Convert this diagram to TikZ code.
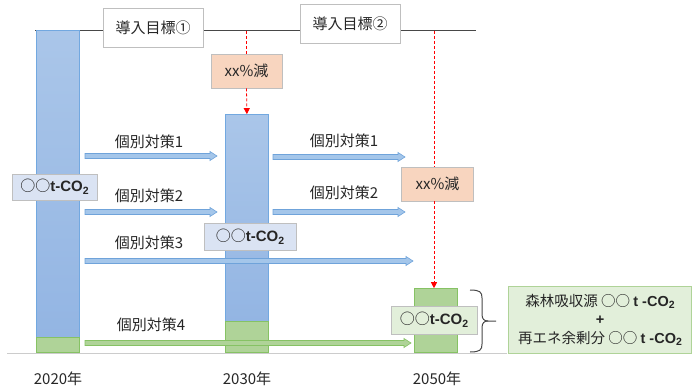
\documentclass[tikz,border=0pt]{standalone}
\usepackage{fontspec}
\setmainfont{Noto Sans CJK JP}
\newfontfamily\lat{Liberation Sans}
\usetikzlibrary{arrows.meta,calc}
\definecolor{bartop}{HTML}{AAC6E9}
\definecolor{barbot}{HTML}{93B5E3}
\definecolor{barline}{HTML}{72A8E0}
\definecolor{grnfill}{HTML}{AFD398}
\definecolor{grnline}{HTML}{86C264}
\definecolor{arrfill}{HTML}{A4C6EA}
\definecolor{arrline}{HTML}{6FA3DA}
\definecolor{labblue}{HTML}{DAE3F3}
\definecolor{labgreen}{HTML}{E2EFDA}
\definecolor{peach}{HTML}{F8D5BF}
\definecolor{boxgray}{HTML}{BFBFBF}
\definecolor{ink}{HTML}{262626}
\newcommand{\cotwo}{{\lat\bfseries t-CO\raisebox{-0.35ex}{\fontsize{10.5}{10.5}\selectfont 2}}}
% block arrow between two named coordinates (same y)
\newcommand{\barrow}[3]{%
  \draw[#1] ($(#2)+(0,-2.5)$) -- ($(#3)+(-7,-2.5)$) -- ($(#3)+(-7,-4.5)$) -- (#3)
    -- ($(#3)+(-7,4.5)$) -- ($(#3)+(-7,2.5)$) -- ($(#2)+(0,2.5)$) -- cycle;}
\begin{document}
\begin{tikzpicture}[x=1pt,y=-1pt,
  every node/.style={font=\fontsize{15}{17}\selectfont, text=ink, inner sep=0pt},
  bluebar/.style={draw=barline, line width=0.8pt, top color=bartop, bottom color=barbot, minimum width=43pt, anchor=south west},
  greenbar/.style={draw=grnline, line width=0.8pt, fill=grnfill, minimum width=43pt, anchor=south west},
  tagbox/.style={draw=boxgray, line width=0.8pt},
  bluearrow/.style={draw=arrline, fill=arrfill, line width=0.6pt, line join=miter},
  greenarrow/.style={draw=grnline, fill=grnfill, line width=0.6pt, line join=miter},
  reddash/.style={draw=red, line width=0.8pt, dash pattern=on 3pt off 2pt, -{Triangle[length=6pt,width=6pt]}}]
\useasboundingbox (0,0) rectangle (692,387);
% axis lines
\coordinate (tl) at (35,31);
\coordinate (tr) at (476,31);
\coordinate (bl) at (7,353);
\coordinate (br) at (507,353);
\draw[draw=ink!85, line width=1pt] (tl) -- (tr);
\draw[draw=black!20, line width=1pt] (bl) -- (br);
% bars
\node[bluebar, minimum height=307pt] (b20) at (36,338) {};
\node[greenbar, minimum height=15pt] (g20) at (36,353) {};
\node[bluebar, minimum height=207pt] (b30) at (225,322) {};
\node[greenbar, minimum height=31pt] (g30) at (225,353) {};
\node[greenbar, minimum height=64pt] (g50) at (414,353) {};
% target boxes
\node[tagbox, fill=white, minimum width=100pt, minimum height=39pt] (t1) at (153,27.5) {導入目標①};
\node[tagbox, fill=white, minimum width=100pt, minimum height=39pt] (t2) at (350,23.5) {導入目標②};
% reduction boxes
\node[tagbox, fill=peach, minimum width=71pt, minimum height=34pt] (r1) at (246.5,71) {xx\%減};
\node[tagbox, fill=peach, minimum width=72pt, minimum height=34pt] (r2) at (437.5,184) {xx\%減};
% red dashed arrows
\coordinate (d1) at (246.5,31);
\coordinate (d2) at (434,31);
\draw[reddash, -] (d1) -- (r1.north);
\draw[reddash] (r1.south) -- (b30.north);
\draw[reddash, -] (d2) -- (d2 |- r2.north);
\draw[reddash] (d2 |- r2.south) -- (d2 |- g50.north);
% block arrows
\coordinate (a1s) at (85,156);  \coordinate (a1e) at (217,156);
\coordinate (a1bs) at (273,157); \coordinate (a1be) at (405,157);
\coordinate (a2s) at (85,212);  \coordinate (a2e) at (217,212);
\coordinate (a2bs) at (273,212); \coordinate (a2be) at (405,212);
\coordinate (a3s) at (85,261);  \coordinate (a3e) at (413,261);
\coordinate (a4s) at (85,343);  \coordinate (a4e) at (411,343);
\barrow{bluearrow}{a1s}{a1e}
\barrow{bluearrow}{a1bs}{a1be}
\barrow{bluearrow}{a2s}{a2e}
\barrow{bluearrow}{a2bs}{a2be}
\barrow{bluearrow}{a3s}{a3e}
\barrow{greenarrow}{a4s}{a4e}
% arrow labels
\node (l1) at (149,142) {個別対策1};
\node (l1b) at (344,141) {個別対策1};
\node (l2) at (149,196) {個別対策2};
\node (l2b) at (344,193) {個別対策2};
\node (l3) at (149,243) {個別対策3};
\node (l4) at (151,325) {個別対策4};
% value labels
\node[tagbox, fill=labblue, minimum width=85pt, minimum height=26pt] (v20) at (54.5,187) {○○\cotwo};
\node[tagbox, fill=labblue, minimum width=92pt, minimum height=27pt] (v30) at (250,236.5) {○○\cotwo};
\node[tagbox, fill=labgreen, minimum width=86pt, minimum height=28pt] (v50) at (434,320) {○○\cotwo};
% brace
\coordinate (bt) at (470,290);
\coordinate (bb) at (470,352);
\coordinate (bm) at (496,321);
\draw[draw=ink!85, line width=1pt] (bt) .. controls (480,290) and (482,292) .. (482,298) -- (482,314) .. controls (482,319) and (484,321) .. (488,321) -- (bm);
\draw[draw=ink!85, line width=1pt] (488,321) .. controls (484,321) and (482,323) .. (482,328) -- (482,344) .. controls (482,350) and (480,352) .. (bb);
% right box
\node[draw=grnfill, line width=1pt, fill=labgreen, minimum width=183pt, minimum height=67pt, align=center, font=\fontsize{14.5}{18.5}\selectfont] (sink) at (600,320) {森林吸収源 ○○ {\lat\bfseries t -CO\raisebox{-0.35ex}{\fontsize{10.5}{10.5}\selectfont 2}}\\{\lat\bfseries +}\\再エネ余剰分 ○○ {\lat\bfseries t -CO\raisebox{-0.35ex}{\fontsize{10.5}{10.5}\selectfont 2}}};
% years
\node (y20) at (58,379) {2020年};
\node (y30) at (247,379) {2030年};
\node (y50) at (437,379) {2050年};
\end{tikzpicture}
\end{document}
